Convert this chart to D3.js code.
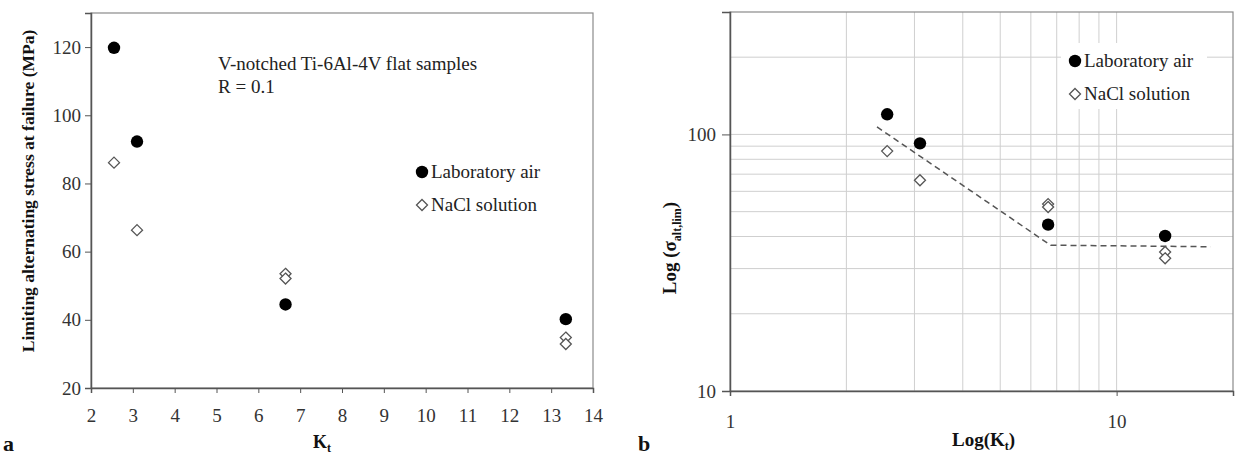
<!DOCTYPE html>
<html>
<head>
<meta charset="utf-8">
<script src="https://cdn.jsdelivr.net/npm/d3@7"></script>
<style>
  body { margin: 0; background: #fff; }
  svg { display: block; font-family: "Liberation Serif", "Times New Roman", serif; }
  .tick text { font-family: "Liberation Serif", "Times New Roman", serif; font-size: 19px; fill: #333; }
  .bold { font-weight: bold; fill: #111; }
</style>
</head>
<body>
<svg id="chart" width="1236" height="457"></svg>
<script>
// data
var kt = [2.55, 3.1, 6.65, 13.35];
var airStress = [119.8, 92.3, 44.5, 40.2];
var naclKt = [2.55, 3.1, 6.65, 6.65, 13.35, 13.35];
var naclStress = [86.1, 66.3, 53.5, 52.1, 34.8, 32.9];
// dashed bilinear fit on the log plot
var fitKt = [2.4, 6.75, 17.5];
var fitStress = [107, 37.0, 36.5];

var leftXTicks = [2, 3, 4, 5, 6, 7, 8, 9, 10, 11, 12, 13, 14];
var leftYTicks = [20, 40, 60, 80, 100, 120];
var logXTicks = [1, 10];
var logYTicks = [10, 100];
var logXGrid = [2, 3, 4, 5, 6, 7, 8, 9, 10];
var logYGrid = [20, 30, 40, 50, 60, 70, 80, 90, 100, 200];

var svg = d3.select("#chart");

function frame(g, x0, y0, x1, y1) {
    g.append("rect")
        .attr("x", x0).attr("y", y0)
        .attr("width", x1 - x0).attr("height", y1 - y0)
        .attr("fill", "none").attr("stroke", "#8a8a8a").attr("stroke-width", 1.2);
}

function styleAxis(sel) {
    sel.attr("font-family", null).attr("font-size", null);
    sel.select(".domain").attr("stroke", "#555").attr("stroke-width", 1.5);
    sel.selectAll(".tick line").attr("stroke", "#555");
}

function circles(g, x, y, xs, ys) {
    g.selectAll("circle.air").data(xs).enter().append("circle")
        .attr("class", "air")
        .attr("cx", function(d) { return x(d); })
        .attr("cy", function(d, i) { return y(ys[i]); })
        .attr("r", 6.2)
        .attr("fill", "#000");
}

function diamonds(g, x, y, xs, ys) {
    g.selectAll("path.nacl").data(xs).enter().append("path")
        .attr("class", "nacl")
        .attr("d", "M0,-5.5L5.5,0L0,5.5L-5.5,0Z")
        .attr("transform", function(d, i) {
            return "translate(" + x(d) + "," + y(ys[i]) + ")";
        })
        .attr("fill", "#fff").attr("stroke", "#555").attr("stroke-width", 1.3);
}

function legend(g, x, y, boxW, boxH) {
    g.append("rect").attr("x", x - 14).attr("y", y - 18)
        .attr("width", boxW).attr("height", boxH).attr("fill", "#fff");
    g.append("circle").attr("cx", x).attr("cy", y).attr("r", 6.2).attr("fill", "#000");
    g.append("text").attr("x", x + 9).attr("y", y + 6)
        .attr("font-size", 19).attr("fill", "#222").text("Laboratory air");
    g.append("path").attr("d", "M0,-5.5L5.5,0L0,5.5L-5.5,0Z")
        .attr("transform", "translate(" + x + "," + (y + 33) + ")")
        .attr("fill", "#fff").attr("stroke", "#555").attr("stroke-width", 1.3);
    g.append("text").attr("x", x + 9).attr("y", y + 39)
        .attr("font-size", 19).attr("fill", "#222").text("NaCl solution");
}

// ---- panel a : linear ----
function panelA() {
    var g = svg.append("g");
    var x = d3.scaleLinear().domain([2, 14]).range([91, 593]);
    var y = d3.scaleLinear().domain([20, 130]).range([388, 13]);

    frame(g, 91, 13, 593, 388);

    var ax = g.append("g").attr("transform", "translate(0,388)")
        .call(d3.axisBottom(x).tickValues(leftXTicks).tickSize(5).tickPadding(16)
              .tickFormat(d3.format("d")));
    styleAxis(ax);
    var ay = g.append("g").attr("transform", "translate(91,0)")
        .call(d3.axisLeft(y).tickValues(leftYTicks).tickSize(6).tickPadding(4)
              .tickFormat(d3.format("d")));
    styleAxis(ay);

    circles(g, x, y, kt, airStress);
    diamonds(g, x, y, naclKt, naclStress);

    g.append("text").attr("x", 218).attr("y", 70).attr("font-size", 19).attr("fill", "#222")
        .text("V-notched Ti-6Al-4V flat samples");
    g.append("text").attr("x", 218).attr("y", 93).attr("font-size", 19).attr("fill", "#222")
        .text("R = 0.1");

    legend(g, 422, 172, 130, 66);

    g.append("text").attr("class", "bold").attr("font-size", 17.5)
        .attr("text-anchor", "middle")
        .attr("transform", "translate(34,191) rotate(-90)")
        .text("Limiting alternating stress at failure (MPa)");

    var kl = g.append("text").attr("class", "bold").attr("font-size", 18)
        .attr("x", 313).attr("y", 448);
    kl.append("tspan").text("K");
    kl.append("tspan").attr("font-size", 12).attr("dy", 4).text("t");

    g.append("text").attr("class", "bold").attr("font-size", 22)
        .attr("x", 3).attr("y", 451).text("a");
}

// ---- panel b : log-log ----
function panelB() {
    var g = svg.append("g");
    var x = d3.scaleLog().domain([1, 20]).range([730, 1233]);
    var y = d3.scaleLog().domain([10, 300]).range([391, 12]);

    g.selectAll("line.vg").data(logXGrid).enter().append("line")
        .attr("class", "vg")
        .attr("x1", function(d) { return x(d); }).attr("x2", function(d) { return x(d); })
        .attr("y1", 12).attr("y2", 391)
        .attr("stroke", "#cfcfcf").attr("stroke-width", 1);
    g.selectAll("line.hg").data(logYGrid).enter().append("line")
        .attr("class", "hg")
        .attr("y1", function(d) { return y(d); }).attr("y2", function(d) { return y(d); })
        .attr("x1", 730).attr("x2", 1233)
        .attr("stroke", "#cfcfcf").attr("stroke-width", 1);

    frame(g, 730, 12, 1233, 391);

    var ax = g.append("g").attr("transform", "translate(0,391)")
        .call(d3.axisBottom(x).tickValues(logXTicks).tickSize(5).tickPadding(19)
              .tickFormat(d3.format("d")));
    styleAxis(ax);
    var ay = g.append("g").attr("transform", "translate(730,0)")
        .call(d3.axisLeft(y).tickValues(logYTicks).tickSize(8).tickPadding(6)
              .tickFormat(d3.format("d")));
    styleAxis(ay);

    var line = d3.line()
        .x(function(d) { return x(d); })
        .y(function(d, i) { return y(fitStress[i]); });
    g.append("path").attr("d", line(fitKt))
        .attr("fill", "none").attr("stroke", "#555").attr("stroke-width", 1.5)
        .attr("stroke-dasharray", "6,4");

    circles(g, x, y, kt, airStress);
    diamonds(g, x, y, naclKt, naclStress);

    legend(g, 1075, 61, 146, 66);

    var yl = g.append("text").attr("class", "bold").attr("font-size", 19)
        .attr("text-anchor", "middle")
        .attr("transform", "translate(676,248) rotate(-90)");
    yl.append("tspan").text("Log (\u03c3");
    yl.append("tspan").attr("font-size", 12).attr("dy", 5).text("alt,lim");
    yl.append("tspan").attr("dy", -5).text(")");

    var xl = g.append("text").attr("class", "bold").attr("font-size", 19)
        .attr("x", 952).attr("y", 446);
    xl.append("tspan").text("Log(K");
    xl.append("tspan").attr("font-size", 12).attr("dy", 4).text("t");
    xl.append("tspan").attr("dy", -4).text(")");

    g.append("text").attr("class", "bold").attr("font-size", 22)
        .attr("x", 638).attr("y", 451).text("b");
}

panelA();
panelB();
</script>
</body>
</html>
